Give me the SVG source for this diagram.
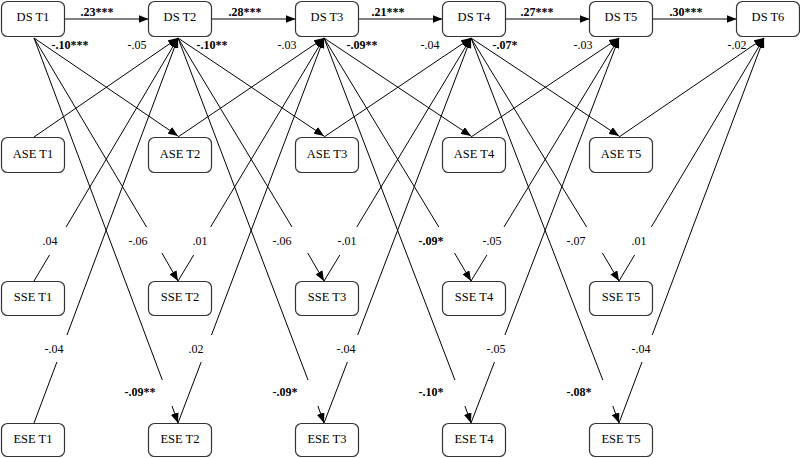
<svg xmlns="http://www.w3.org/2000/svg" width="800" height="458" viewBox="0 0 800 458">
<style>
.box{fill:#fff;stroke:#333;stroke-width:1.2}
.nt{font-family:"Liberation Serif","Times New Roman",serif;font-size:12.5px;text-anchor:middle;fill:#000}
.c{fill:none;stroke:#000;stroke-width:1}
.a{marker-end:url(#arr)}
.lb{font-family:"Liberation Serif","Times New Roman",serif;font-size:12px;text-anchor:middle;fill:#000}
.b{font-weight:bold}
</style>
<defs>
<marker id="arr" markerUnits="userSpaceOnUse" markerWidth="10" markerHeight="8" refX="10" refY="4" orient="auto">
<path d="M0,0 L10,4 L0,8 z" fill="#000"/>
</marker>
</defs>
<rect width="800" height="458" fill="#fff"/>
<g id="connectors">
<!-- DS autoregressive -->
<path class="c a" d="M64.5,19 L148.5,19"/>
<path class="c a" d="M211.5,19 L295.5,19"/>
<path class="c a" d="M358.5,19 L442.5,19"/>
<path class="c a" d="M505.5,19 L589.5,19"/>
<path class="c a" d="M652.5,19 L736.5,19"/>
<!-- DS -> ASE -->
<path class="c a" d="M34,38 L178,136"/>
<path class="c a" d="M178,38 L324,136"/>
<path class="c a" d="M324,38 L471,136"/>
<path class="c a" d="M471,38 L619,136"/>
<!-- ASE -> DS -->
<path class="c a" d="M34,137 L178,38"/>
<path class="c a" d="M178,137 L324,38"/>
<path class="c a" d="M324,137 L471,38"/>
<path class="c a" d="M471,137 L619,38"/>
<path class="c a" d="M619,137 L764,38"/>
<!-- SSE -> DS -->
<path class="c" d="M34,281 L49.5,255"/><path class="c a" d="M66.1,227 L178,38"/>
<path class="c" d="M178,281 L193.7,255"/><path class="c a" d="M210.6,227 L324,38"/>
<path class="c" d="M324,281 L339.8,255"/><path class="c a" d="M356.8,227 L471,38"/>
<path class="c" d="M471,281 L486.9,255"/><path class="c a" d="M504,227 L619,38"/>
<path class="c" d="M619,281 L634.6,255"/><path class="c a" d="M651.3,227 L764,38"/>
<!-- DS -> SSE -->
<path class="c" d="M34,38 L146.5,227"/><path class="c a" d="M161.9,253 L178,281"/>
<path class="c" d="M178,38 L292,227"/><path class="c a" d="M307.7,253 L324,281"/>
<path class="c" d="M324,38 L438.8,227"/><path class="c a" d="M454.5,253 L471,281"/>
<path class="c" d="M471,38 L586.6,227"/><path class="c a" d="M602.4,253 L619,281"/>
<!-- ESE -> DS -->
<path class="c" d="M34,423 L56.9,362"/><path class="c a" d="M67,335 L178,38"/>
<path class="c" d="M178,423 L201.2,362"/><path class="c a" d="M211.5,335 L324,38"/>
<path class="c" d="M324,423 L347.4,362"/><path class="c a" d="M357.7,335 L471,38"/>
<path class="c" d="M471,423 L494.5,362"/><path class="c a" d="M504.9,335 L619,38"/>
<path class="c" d="M619,423 L642,362"/><path class="c a" d="M652.2,335 L764,38"/>
<!-- DS -> ESE -->
<path class="c" d="M34,38 L162.3,380"/><path class="c a" d="M172,406 L178,423"/>
<path class="c" d="M178,38 L308,380"/><path class="c a" d="M317.9,406 L324,423"/>
<path class="c" d="M324,38 L454.9,380"/><path class="c a" d="M464.9,406 L471,423"/>
<path class="c" d="M471,38 L602.8,380"/><path class="c a" d="M612.8,406 L619,423"/>
</g>
<g id="labels">
<text class="lb b" x="97" y="16">.23***</text>
<text class="lb b" x="245" y="16">.28***</text>
<text class="lb b" x="388" y="16">.21***</text>
<text class="lb b" x="537" y="16">.27***</text>
<text class="lb b" x="686" y="16">.30***</text>
<text class="lb" x="137" y="49">-.05</text>
<text class="lb" x="287" y="49">-.03</text>
<text class="lb" x="430" y="49">-.04</text>
<text class="lb" x="583" y="49">-.03</text>
<text class="lb" x="737" y="49">-.02</text>
<text class="lb b" x="70" y="49">-.10***</text>
<text class="lb b" x="212" y="49">-.10**</text>
<text class="lb b" x="362" y="49">-.09**</text>
<text class="lb b" x="505" y="49">-.07*</text>
<text class="lb" x="50" y="245">.04</text>
<text class="lb" x="138" y="245">-.06</text>
<text class="lb" x="200" y="245">.01</text>
<text class="lb" x="282" y="245">-.06</text>
<text class="lb" x="347" y="245">-.01</text>
<text class="lb b" x="431" y="245">-.09*</text>
<text class="lb" x="492" y="245">-.05</text>
<text class="lb" x="576" y="245">-.07</text>
<text class="lb" x="639" y="245">.01</text>
<text class="lb" x="54" y="353">-.04</text>
<text class="lb" x="196" y="353">.02</text>
<text class="lb" x="346" y="353">-.04</text>
<text class="lb" x="496" y="353">-.05</text>
<text class="lb" x="641" y="353">-.04</text>
<text class="lb b" x="140" y="396">-.09**</text>
<text class="lb b" x="285" y="396">-.09*</text>
<text class="lb b" x="431" y="396">-.10*</text>
<text class="lb b" x="579" y="396">-.08*</text>
</g>
<g id="DS_T1"><rect class="box" x="1.5" y="1.5" width="63" height="35" rx="6"/><text class="nt" x="33" y="21">DS T1</text></g>
<g id="DS_T2"><rect class="box" x="148.5" y="1.5" width="63" height="35" rx="6"/><text class="nt" x="180" y="21">DS T2</text></g>
<g id="DS_T3"><rect class="box" x="295.5" y="1.5" width="63" height="35" rx="6"/><text class="nt" x="327" y="21">DS T3</text></g>
<g id="DS_T4"><rect class="box" x="442.5" y="1.5" width="63" height="35" rx="6"/><text class="nt" x="474" y="21">DS T4</text></g>
<g id="DS_T5"><rect class="box" x="589.5" y="1.5" width="63" height="35" rx="6"/><text class="nt" x="621" y="21">DS T5</text></g>
<g id="DS_T6"><rect class="box" x="736.5" y="1.5" width="63" height="35" rx="6"/><text class="nt" x="768" y="21">DS T6</text></g>
<g id="ASE_T1"><rect class="box" x="1.5" y="137.5" width="63" height="35" rx="6"/><text class="nt" x="33" y="158">ASE T1</text></g>
<g id="ASE_T2"><rect class="box" x="148.5" y="137.5" width="63" height="35" rx="6"/><text class="nt" x="180" y="158">ASE T2</text></g>
<g id="ASE_T3"><rect class="box" x="295.5" y="137.5" width="63" height="35" rx="6"/><text class="nt" x="327" y="158">ASE T3</text></g>
<g id="ASE_T4"><rect class="box" x="442.5" y="137.5" width="63" height="35" rx="6"/><text class="nt" x="474" y="158">ASE T4</text></g>
<g id="ASE_T5"><rect class="box" x="589.5" y="137.5" width="63" height="35" rx="6"/><text class="nt" x="621" y="158">ASE T5</text></g>
<g id="SSE_T1"><rect class="box" x="1.5" y="281.5" width="63" height="34" rx="6"/><text class="nt" x="33" y="301">SSE T1</text></g>
<g id="SSE_T2"><rect class="box" x="148.5" y="281.5" width="63" height="34" rx="6"/><text class="nt" x="180" y="301">SSE T2</text></g>
<g id="SSE_T3"><rect class="box" x="295.5" y="281.5" width="63" height="34" rx="6"/><text class="nt" x="327" y="301">SSE T3</text></g>
<g id="SSE_T4"><rect class="box" x="442.5" y="281.5" width="63" height="34" rx="6"/><text class="nt" x="474" y="301">SSE T4</text></g>
<g id="SSE_T5"><rect class="box" x="589.5" y="281.5" width="63" height="34" rx="6"/><text class="nt" x="621" y="301">SSE T5</text></g>
<g id="ESE_T1"><rect class="box" x="1.5" y="423.5" width="63" height="33" rx="6"/><text class="nt" x="33" y="443">ESE T1</text></g>
<g id="ESE_T2"><rect class="box" x="148.5" y="423.5" width="63" height="33" rx="6"/><text class="nt" x="180" y="443">ESE T2</text></g>
<g id="ESE_T3"><rect class="box" x="295.5" y="423.5" width="63" height="33" rx="6"/><text class="nt" x="327" y="443">ESE T3</text></g>
<g id="ESE_T4"><rect class="box" x="442.5" y="423.5" width="63" height="33" rx="6"/><text class="nt" x="474" y="443">ESE T4</text></g>
<g id="ESE_T5"><rect class="box" x="589.5" y="423.5" width="63" height="33" rx="6"/><text class="nt" x="621" y="443">ESE T5</text></g>
</svg>
